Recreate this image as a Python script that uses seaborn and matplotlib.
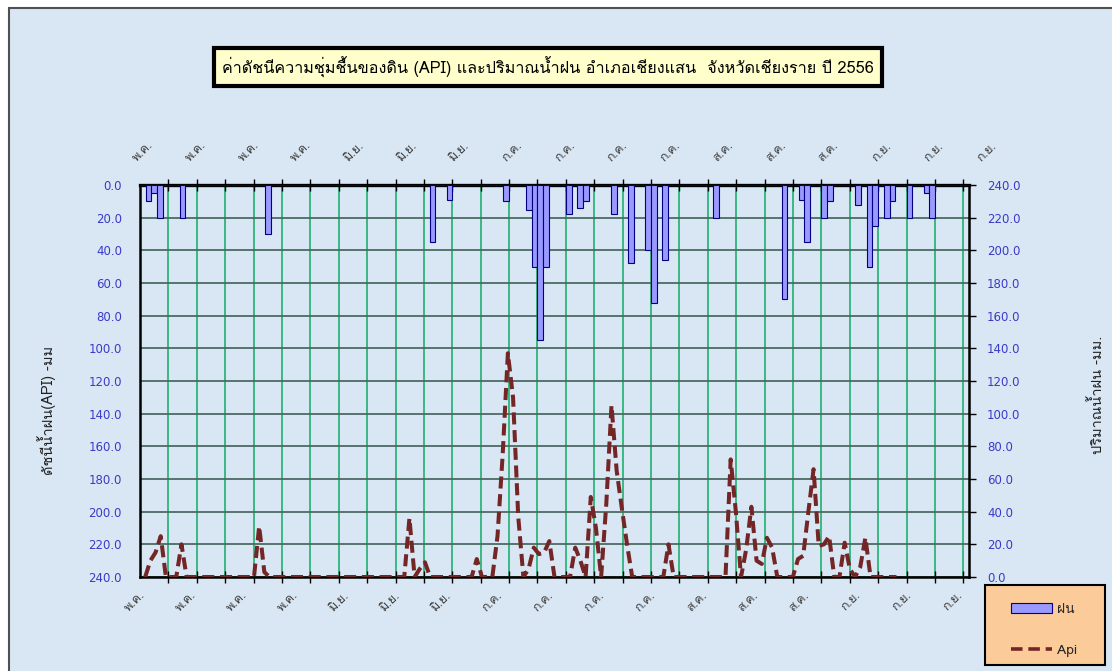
import numpy as np
import pandas as pd
import matplotlib
matplotlib.use("Agg")
import matplotlib.pyplot as plt
import seaborn as sns
from matplotlib import font_manager as fm
from matplotlib.ft2font import FT2Font
from matplotlib.patches import Rectangle, Patch
from matplotlib.lines import Line2D

# ---------------- data ----------------
N_DAYS = 146  # daily categories
rain_day = [1, 2, 3, 7, 22, 51, 54, 64, 68, 69, 70, 71, 75, 77, 78, 83, 86, 89, 90, 92,
            101, 113, 116, 117, 120, 121, 126, 128, 129, 131, 132, 135, 138, 139]
rain_mm = [10, 5, 20, 20, 30, 35, 9, 10, 15, 50, 95, 50, 18, 14, 10, 18, 48, 40, 72, 46,
           20, 70, 9, 35, 20, 10, 12, 50, 25, 20, 10, 20, 5, 20]
api_day = [1, 2, 3, 7, 22, 23, 51, 53, 54, 64, 68, 69, 70, 71, 72, 74, 75, 76, 77, 78,
           83, 84, 86, 87, 89, 90, 91, 92, 93, 101, 113, 114, 116, 117, 118, 119, 120, 121,
           126, 127, 128, 129, 130, 131, 132, 135, 136, 138, 139]
api_val = [10, 15, 25, 20, 31, 3, 36, 5, 9, 11, 25, 75, 137, 110, 37, 5, 18, 14, 15, 22,
           18, 10, 49, 30, 45, 105, 65, 42, 20, 20, 72, 40, 17, 43, 10, 8, 24, 18,
           11, 13, 40, 66, 19, 20, 25, 21, 5, 6, 24]
month_labels = ["พ.ค."] * 4 + ["มิ.ย."] * 3 + ["ก.ค."] * 4 + ["ส.ค."] * 3 + ["ก.ย."] * 3
value_ticks = list(range(0, 241, 20))
title = "ค่าดัชนีความชุ่มชื้นของดิน (API) และปริมาณน้ำฝน อำเภอเชียงแสน  จังหวัดเชียงราย ปี 2556"
left_label = "ดัชนีน้ำฝน(API) -มม"
right_label = "ปริมาณน้ำฝน -มม."
legend_labels = ["ฝน", "Api"]

days = np.arange(N_DAYS)
rain_full = np.zeros(N_DAYS)
rain_full[rain_day] = rain_mm
api_full = np.zeros(N_DAYS)
api_full[api_day] = api_val

# ---------------- fonts ----------------
sns.set_style("white")
thai = []
for f in fm.fontManager.ttflist:
    try:
        cmap = FT2Font(f.fname).get_charmap()
    except Exception:
        continue
    if 0x0E01 in cmap and 0x0E19 in cmap and 0x0E49 in cmap:
        if f.name not in thai:
            thai.append(f.name)
pref = [n for n in ["Loma", "Tlwg Typo", "Garuda", "Noto Sans Thai"] if n in thai]
fams = (pref[:1] or thai[:1]) + ["DejaVu Sans"]
plt.rcParams["font.family"] = fams

# ---------------- figure ----------------
W, H = 1112, 671
fig = plt.figure(figsize=(W / 100, H / 100), dpi=100, facecolor="white")
bg = Rectangle((9 / W, -0.02), 1.05, 1 - 8 / H + 0.02, transform=fig.transFigure,
               facecolor="#D9E7F4", edgecolor="#505050", lw=1.5, zorder=-10)
fig.patches.append(bg)

pos = [140 / W, (H - 577) / H, 829 / W, 392 / H]
ax = fig.add_axes(pos)
ax.patch.set_alpha(0)

df_rain = pd.DataFrame({"day": days, "rain": rain_full})
sns.barplot(data=df_rain, x="day", y="rain", native_scale=True, width=1.0,
            color="#9999FF", edgecolor="#000080", linewidth=0.8, saturation=1,
            errorbar=None, ax=ax, zorder=3)
ax.set_xlabel("")
ax.set_ylabel("")

# grid at every 5th category boundary
ax.set_xticks(np.arange(5, N_DAYS, 5) - 0.5)
ax.set_xticklabels([])
ax.set_xticks(np.arange(0, N_DAYS, 9), minor=True)
ax.set_xticklabels(month_labels, minor=True, rotation=45, ha="right", va="center",
                   rotation_mode="anchor", fontsize=9, color="#404040")
ax.set_xlim(-0.5, N_DAYS - 0.5)
ax.set_ylim(240, 0)
ax.tick_params(axis="x", which="major", top=True, bottom=True, direction="inout",
               length=8, width=1, color="black")
ax.tick_params(axis="x", which="minor", length=0, pad=12)
ax.xaxis.grid(True, which="major", color="#2DB57A", lw=1.3)
ax.set_yticks(value_ticks)
ax.set_yticklabels([f"{v:.1f}" for v in value_ticks], fontsize=8.5, color="#3A3AC8",
                   family="DejaVu Sans")
ax.set_ylim(240, 0)
ax.yaxis.grid(True, color="#4B6B62", lw=1.3)
ax.tick_params(axis="y", direction="out", length=5, width=1, color="black", pad=8)
ax.set_axisbelow(True)
for s in ax.spines.values():
    s.set_color("black")
    s.set_linewidth(1.8)
ax.spines["top"].set_linewidth(2.4)

ax.set_ylabel(left_label, fontsize=10.5, color="#202020", va="center")
ax.yaxis.set_label_coords(-(140 - 47) / 829, (577 - 410) / 392)

# API line on its own category scale
ax2 = fig.add_axes(pos)
ax2.patch.set_visible(False)
sns.lineplot(x=days, y=api_full, ax=ax2, color="#742626", lw=2.9)
ax2.lines[0].set_dashes([3.0, 1.4])
ax2.set_xlabel("")
ax2.xaxis.set_visible(False)
for s in ax2.spines.values():
    s.set_visible(False)
ax2.yaxis.tick_right()
ax2.yaxis.set_label_position("right")
ax2.set_yticks(value_ticks)
ax2.set_yticklabels([f"{v:.1f}" for v in value_ticks], fontsize=8.5, color="#3A3AC8",
                    family="DejaVu Sans")
ax2.set_xlim(-1, 159)
ax2.set_ylim(0, 240)
ax2.tick_params(axis="y", direction="out", length=5, width=1, color="black", pad=8,
                right=True, left=False)
ax2.set_ylabel(right_label, fontsize=10.5, color="#202020", rotation=90, va="center")
ax2.yaxis.set_label_coords((1097 - 140) / 829, (577 - 395) / 392)

# top month labels (own axis, slightly wider than the plot area)
top_px = 880
step_px = 52.75
ax_top = fig.add_axes([140 / W, pos[1], top_px / W, pos[3]])
ax_top.patch.set_visible(False)
for s in ax_top.spines.values():
    s.set_visible(False)
ax_top.yaxis.set_visible(False)
ax_top.xaxis.tick_top()
ax_top.set_xticks(range(len(month_labels)))
ax_top.set_xticklabels(month_labels, rotation=45, ha="center", fontsize=9, color="#404040")
lo = -3 / step_px
ax_top.set_xlim(lo, lo + top_px / step_px)
ax_top.tick_params(axis="x", length=0, pad=15, bottom=False, labelbottom=False)

# title
fig.text(548 / W, 1 - 67 / H, title, ha="center", va="center", fontsize=11.7, color="black",
         bbox=dict(boxstyle="square,pad=0.5", fc="#FFFFCC", ec="black", lw=3))

# legend
fig.patches.append(Rectangle((985 / W, 1 - 665 / H), 120 / W, 80 / H,
                             transform=fig.transFigure, fc="#FBCB9A", ec="black", lw=1.5,
                             zorder=5))
handles = [Patch(fc="#9999FF", ec="#000080", lw=0.8),
           Line2D([], [], color="#742626", lw=2.6, dashes=[3.2, 1.6])]
leg = fig.legend(handles, legend_labels, loc="center left",
                 bbox_to_anchor=(1001 / W, 1 - 630 / H), frameon=False, fontsize=10,
                 handlelength=3, labelspacing=2.0, handletextpad=0.3, borderpad=0.2)
leg.set_zorder(6)

fig.savefig("out.png", dpi=100, facecolor=fig.get_facecolor())
